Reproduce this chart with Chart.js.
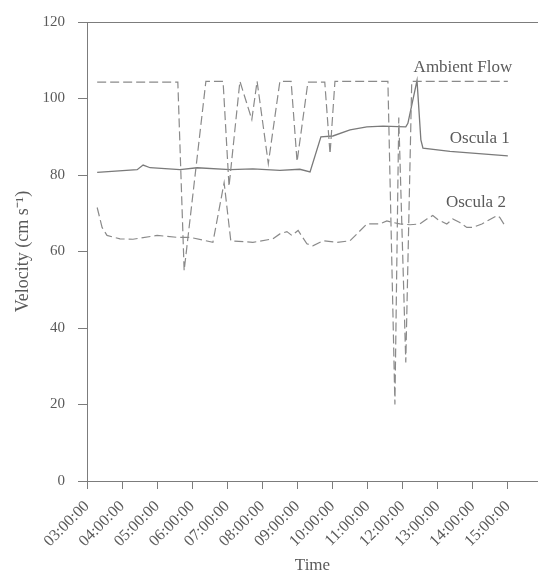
<!DOCTYPE html>
<html>
<head>
<meta charset="utf-8">
<script src="https://cdn.jsdelivr.net/npm/chart.js@4.4.1/dist/chart.umd.min.js"></script>
<style>
  html, body { margin: 0; padding: 0; background: #fff; }
  #wrap { width: 538px; height: 579px; }
</style>
</head>
<body>
<div id="wrap"><canvas id="velocity"></canvas></div>
<script>
// times are decimal hours (3.5 = 03:30)
const ambientTimes = [3.29, 5.59, 5.77, 6.39, 6.88, 7.05, 7.36, 7.70, 7.85, 8.17, 8.50, 8.82, 8.99,
  9.30, 9.78, 9.93, 10.07, 11.58, 11.78, 11.89, 12.09, 12.26, 15.0];
const ambientValues = [104.3, 104.3, 55, 104.5, 104.5, 77, 104.5, 94.5, 104.5, 83, 104.5, 104.5, 83.5,
  104.3, 104.3, 85.5, 104.5, 104.5, 20, 95, 31, 104.5, 104.5];

const oscula1Times = [3.29, 4.43, 4.60, 4.80, 5.65, 6.14, 7.08, 7.73, 8.50, 9.07, 9.36, 9.67, 10.01,
  10.50, 10.98, 11.44, 12.09, 12.15, 12.41, 12.52, 12.58, 13.35, 15.0];
const oscula1Values = [80.7, 81.4, 82.6, 81.9, 81.4, 81.9, 81.4, 81.6, 81.2, 81.5, 80.8, 90, 90.2,
  91.8, 92.6, 92.8, 92.6, 93.5, 104.7, 89.2, 87, 86.2, 85];

const oscula2Times = [3.29, 3.43, 3.57, 3.94, 4.31, 5.0, 5.57, 5.94, 6.59, 6.91, 7.10, 7.73, 8.30,
  8.50, 8.70, 8.84, 9.02, 9.27, 9.44, 9.73, 10.13, 10.50, 10.98, 11.35, 11.55, 11.72, 11.92,
  12.21, 12.49, 12.69, 12.86, 13.01, 13.26, 13.43, 13.63, 13.83, 14.00, 14.26, 14.69, 14.77, 14.92];
const oscula2Values = [71.5, 66.3, 64.2, 63.3, 63.2, 64.2, 63.7, 63.7, 62.4, 78, 62.8, 62.4, 63.3,
  64.6, 65.2, 64.2, 65.5, 62, 61.5, 62.8, 62.4, 62.8, 67.2, 67.2, 68, 67.6, 67.2,
  67, 67.2, 68.5, 69.4, 68.3, 67.2, 68.5, 67.6, 66.3, 66.3, 67.2, 69.4, 68.9, 66.7];

const yTicks = [0, 20, 40, 60, 80, 100, 120];

const ink = '#5a5a5a';
const axisGrey = '#7c7c7c';
const solidGrey = '#7a7a7a';
const dashGrey = '#8a8a8a';
const serif = 'Liberation Serif';

function toPoints(times, values) {
  return times.map((t, i) => ({ x: t, y: values[i] }));
}

function clockLabel(h) {
  return String(h).padStart(2, '0') + ':00:00';
}

// series names written next to the lines, anchored in data units
const seriesLabels = [
  { text: 'Ambient Flow', x: 13.72, y: 108.1 },
  { text: 'Oscula 1', x: 14.2, y: 89.6 },
  { text: 'Oscula 2', x: 14.09, y: 72.9 }
];

const frameAndLabels = {
  id: 'frameAndLabels',
  afterDatasetsDraw(chart) {
    const { ctx, chartArea, scales } = chart;
    ctx.save();
    // top frame line
    ctx.strokeStyle = axisGrey;
    ctx.lineWidth = 1;
    ctx.beginPath();
    ctx.moveTo(chartArea.left, chartArea.top + 0.5);
    ctx.lineTo(chartArea.right, chartArea.top + 0.5);
    ctx.stroke();
    ctx.fillStyle = ink;
    ctx.font = '17px "' + serif + '"';
    ctx.textAlign = 'center';
    ctx.textBaseline = 'middle';
    seriesLabels.forEach(l => {
      ctx.fillText(l.text, scales.x.getPixelForValue(l.x), scales.y.getPixelForValue(l.y));
    });
    ctx.restore();
  }
};

Chart.defaults.font.family = serif;
Chart.defaults.color = ink;

const data = {
  datasets: [{
    label: 'Ambient Flow',
    data: toPoints(ambientTimes, ambientValues),
    borderColor: dashGrey,
    borderWidth: 1.2,
    borderDash: [9, 4],
    pointRadius: 0,
    tension: 0
  }, {
    label: 'Oscula 1',
    data: toPoints(oscula1Times, oscula1Values),
    borderColor: solidGrey,
    borderWidth: 1.3,
    pointRadius: 0,
    tension: 0
  }, {
    label: 'Oscula 2',
    data: toPoints(oscula2Times, oscula2Values),
    borderColor: dashGrey,
    borderWidth: 1.2,
    borderDash: [9, 4],
    pointRadius: 0,
    tension: 0
  }]
};

const config = {
  type: 'line',
  data: data,
  plugins: [frameAndLabels],
  options: {
    responsive: true,
    maintainAspectRatio: false,
    animation: false,
    layout: { padding: { top: 17, right: 0, left: 0, bottom: 0 } },
    plugins: {
      legend: { display: false },
      tooltip: { enabled: false }
    },
    scales: {
      x: {
        type: 'linear',
        min: 3,
        max: 15.86,
        afterFit: scale => { scale.height = 98; },
        ticks: {
          stepSize: 1,
          includeBounds: false,
          autoSkip: false,
          minRotation: 45,
          maxRotation: 45,
          padding: 8,
          font: { size: 16 },
          callback: v => clockLabel(v)
        },
        grid: { drawOnChartArea: false, tickLength: 8, color: axisGrey },
        border: { color: axisGrey },
        title: {
          display: true,
          text: 'Time',
          font: { size: 17 },
          padding: { top: 0, bottom: 3 }
        }
      },
      y: {
        min: 0,
        max: 120,
        afterFit: scale => { scale.width = 87; },
        afterBuildTicks: scale => { scale.ticks = yTicks.map(v => ({ value: v })); },
        ticks: { padding: 13, font: { size: 15 } },
        grid: { drawOnChartArea: false, tickLength: 9, color: axisGrey },
        border: { color: axisGrey },
        title: {
          display: true,
          text: 'Velocity (cm s\u207B\u00B9)',
          font: { size: 18 },
          padding: { top: 12, bottom: 0 }
        }
      }
    }
  }
};

const velocityChart = new Chart(document.getElementById('velocity'), config);
</script>
</body>
</html>
